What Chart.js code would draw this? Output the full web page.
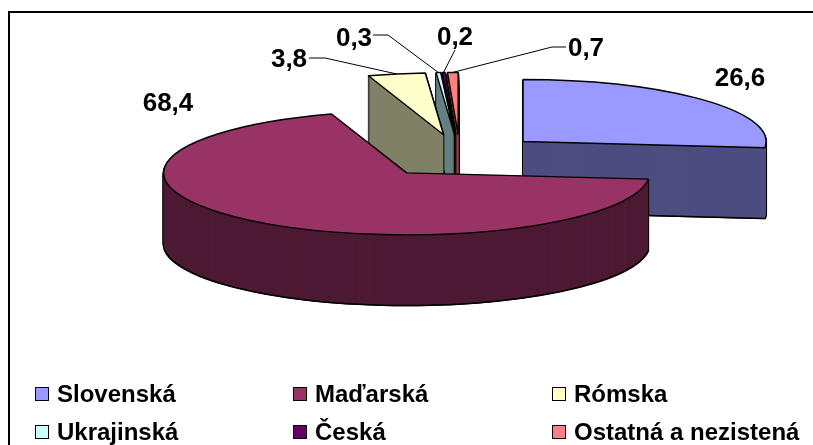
<!DOCTYPE html>
<html>
<head>
<meta charset="utf-8">
<script src="https://cdn.jsdelivr.net/npm/chart.js@4/dist/chart.umd.min.js"></script>
<style>
html,body{margin:0;padding:0;background:#fff;}
#wrap{position:relative;width:813px;height:445px;overflow:hidden;font-family:"Liberation Sans",Arial,sans-serif;background:#fff;}
#frame{position:absolute;left:8px;top:11px;width:900px;height:500px;border:2px solid #000;box-sizing:border-box;}
#c{position:absolute;left:0;top:0;}
.lbl{position:absolute;font-weight:bold;font-size:26px;line-height:26px;white-space:nowrap;transform:translate(-50%,-50%);color:#000;}
.leg{position:absolute;font-weight:bold;font-size:24px;line-height:24px;white-space:nowrap;color:#000;}
.sw{position:absolute;width:12px;height:12px;border:1px solid #000;}
</style>
</head>
<body>
<div id="wrap">
  <div id="frame"></div>
  <canvas id="c" width="813" height="445"></canvas>
</div>
<script>
// ---- data ----
const categories = ['Slovenská', 'Maďarská', 'Rómska', 'Ukrajinská', 'Česká', 'Ostatná a nezistená'];
const values = [26.6, 68.4, 3.8, 0.3, 0.2, 0.7];
const valueLabels = ['26,6', '68,4', '3,8', '0,3', '0,2', '0,7'];
const topColors = ['#9999FF', '#993366', '#FFFFCC', '#CCFFFF', '#660066', '#FF8080'];
const sideColors = ['#4D4D80', '#4D1A33', '#808066', '#668080', '#330033', '#804040'];

// ---- layout (not data) ----
const TILT = 0.255, DEPTH = 70, EXPLODE = 85, RADIUS = 243;
const labelPos = [[740, 77], [168, 102], [289, 58], [354, 37], [455, 36], [586, 47]];
const leaderStart = [null, null, [[309, 58], [325, 58]], [[373, 35], [388, 35]], [[455, 50]], [[566, 47], [552, 47]]];
const legendCols = [35, 293, 552];
const legendRows = [382, 420];

const pie3d = {
  id: 'pie3d',
  beforeDatasetsDraw(chart) {
    const ctx = chart.ctx;
    const arcs = chart.getDatasetMeta(0).data;
    const cx = arcs[0].x, cy = arcs[0].y;
    const items = arcs.map((el, i) => {
      const mid = (el.startAngle + el.endAngle) / 2;
      const dx = Math.cos(mid) * EXPLODE, dy = Math.sin(mid) * EXPLODE;
      return {el, i, mid, dx, dy, ax: cx + dx, ay: cy + dy * TILT};
    }).sort((a, b) => a.ay - b.ay);

    const drawLayer = (it, k, ox, color) => {
      const el = it.el;
      ctx.save();
      ctx.translate(cx + ox, cy + k);
      ctx.scale(1, TILT);
      ctx.translate(-cx + it.dx, -cy + it.dy);
      const saved = el.options;
      el.options = Object.assign({}, saved, {backgroundColor: color, borderColor: color, borderWidth: 0, offset: 0, spacing: 0});
      el.draw(ctx);
      el.options = saved;
      ctx.restore();
    };

    for (const it of items) {
      for (let k = DEPTH + 1.5; k >= 0; k -= 1) {
        drawLayer(it, k, -1, '#000');
        drawLayer(it, k, 1, '#000');
      }
      for (let k = DEPTH; k >= 1; k -= 1) drawLayer(it, k, 0, sideColors[it.i]);
      drawLayer(it, 0, 0, topColors[it.i]);
      const el = it.el, r = el.outerRadius;
      ctx.save();
      ctx.beginPath();
      ctx.moveTo(it.ax, it.ay);
      ctx.ellipse(it.ax, it.ay, r, r * TILT, 0, el.startAngle, el.endAngle);
      ctx.closePath();
      ctx.lineWidth = 1.4;
      ctx.strokeStyle = '#000';
      ctx.lineJoin = 'round';
      ctx.stroke();
      ctx.restore();
    }

    // leader lines
    ctx.save();
    ctx.strokeStyle = '#000';
    ctx.lineWidth = 1;
    for (const it of items) {
      const pts = leaderStart[it.i];
      if (!pts) continue;
      const r = it.el.outerRadius;
      const ex = it.ax + Math.cos(it.mid) * r;
      const ey = it.ay + Math.sin(it.mid) * r * TILT;
      ctx.beginPath();
      ctx.moveTo(pts[0][0], pts[0][1]);
      for (let j = 1; j < pts.length; j++) ctx.lineTo(pts[j][0], pts[j][1]);
      ctx.lineTo(ex, ey);
      ctx.stroke();
    }
    ctx.restore();
    return false;
  }
};

new Chart(document.getElementById('c'), {
  type: 'pie',
  data: {
    labels: categories,
    datasets: [{
      data: values,
      backgroundColor: topColors,
      borderWidth: 0,
      radius: RADIUS,
      offset: 0,
      hoverOffset: 0,
      clip: false
    }]
  },
  options: {
    responsive: false,
    animation: false,
    events: [],
    radius: RADIUS,
    layout: {padding: {left: 107, right: 0, top: 0, bottom: 133}},
    plugins: {legend: {display: false}, tooltip: {enabled: false}, title: {display: false}}
  },
  plugins: [pie3d]
});

// value labels
const wrap = document.getElementById('wrap');
valueLabels.forEach((t, i) => {
  const d = document.createElement('div');
  d.className = 'lbl';
  d.textContent = t;
  d.style.left = labelPos[i][0] + 'px';
  d.style.top = labelPos[i][1] + 'px';
  wrap.appendChild(d);
});
// legend
categories.forEach((name, i) => {
  const col = i % 3, row = Math.floor(i / 3);
  const x = legendCols[col], y = legendRows[row];
  const sw = document.createElement('div');
  sw.className = 'sw';
  sw.style.left = x + 'px';
  sw.style.top = (y + 5) + 'px';
  sw.style.background = topColors[i];
  wrap.appendChild(sw);
  const t = document.createElement('div');
  t.className = 'leg';
  t.textContent = name;
  t.style.left = (x + 22) + 'px';
  t.style.top = y + 'px';
  wrap.appendChild(t);
});
</script>
</body>
</html>
